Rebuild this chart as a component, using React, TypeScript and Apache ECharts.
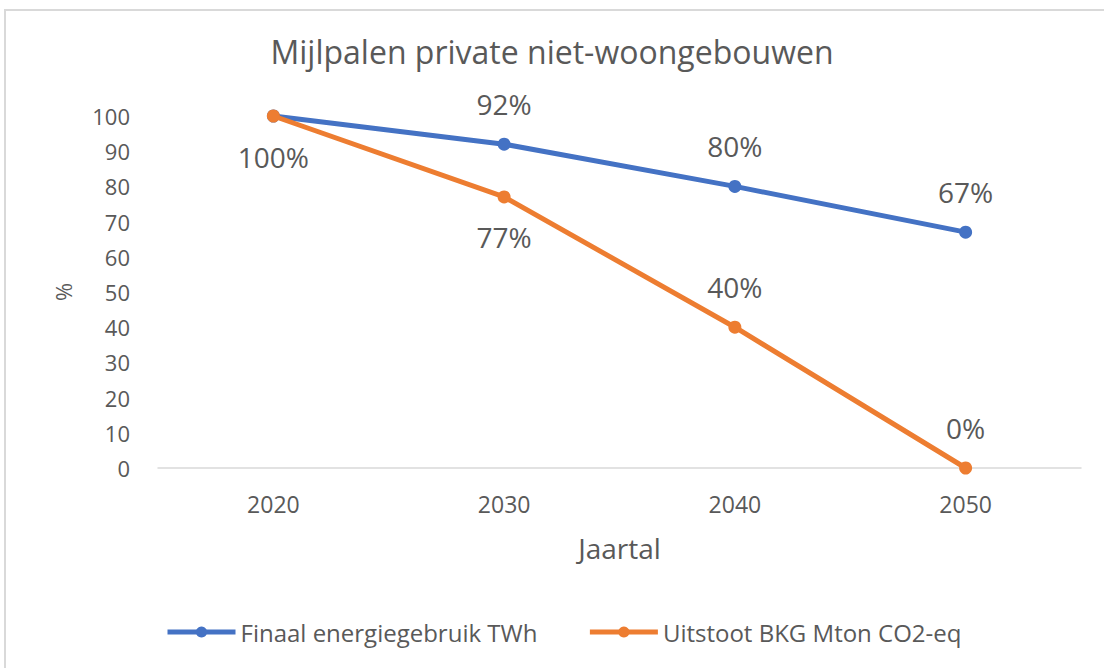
import React, { useEffect, useRef } from "react";
import * as echarts from "echarts";

const years = ["2020", "2030", "2040", "2050"];
const energyValues = [100, 92, 80, 67];
const emissionValues = [100, 77, 40, 0];
const energyLabelPos = ["none", "top", "top", "top"];
const emissionLabelPos = ["bottom", "bottom", "top", "top"];
const yTicks = [0, 10, 20, 30, 40, 50, 60, 70, 80, 90, 100];

const FONT = "'Open Sans', 'Noto Sans', sans-serif";
const GREY = "#595959";

function buildData(values: number[], pos: string[]) {
  return values.map((v, i) =>
    pos[i] === "none"
      ? { value: v, label: { show: false } }
      : { value: v, label: { show: true, position: pos[i] } }
  );
}

export default function App() {
  const ref = useRef<HTMLDivElement>(null);
  useEffect(() => {
    if (!ref.current) return;
    const chart = echarts.init(ref.current, undefined, { renderer: "svg" });
    const labelStyle = {
      show: true,
      formatter: (p: any) => p.value + "%",
      fontFamily: FONT,
      fontSize: 28,
      color: GREY,
      distance: 20,
    };
    chart.setOption({
      animation: false,
      backgroundColor: "#fff",
      textStyle: { fontFamily: FONT },
      title: {
        text: "Mijlpalen private niet-woongebouwen",
        left: "center",
        top: 30,
        textStyle: { fontFamily: FONT, fontSize: 32, fontWeight: "normal", color: GREY },
      },
      graphic: [
        {
          type: "rect",
          shape: { x: 5, y: 10, width: 1120, height: 700 },
          style: { fill: "none", stroke: "#d9d9d9", lineWidth: 2 },
          silent: true,
        },
      ],
      legend: {
        left: 160,
        top: 615,
        itemGap: 50,
        itemWidth: 68,
        itemHeight: 14,
        lineStyle: { width: 5 },
        textStyle: { fontFamily: FONT, fontSize: 24, color: GREY },
        data: ["Finaal energiegebruik TWh", "Uitstoot BKG Mton CO2-eq"],
      },
      grid: { left: 158, right: 23, top: 116, bottom: 200 },
      xAxis: {
        type: "category",
        data: years,
        boundaryGap: true,
        name: "Jaartal",
        nameLocation: "middle",
        nameGap: 66,
        nameTextStyle: { fontFamily: FONT, fontSize: 28, color: GREY },
        axisLine: { lineStyle: { color: "#d9d9d9", width: 1.5 } },
        axisTick: { show: false },
        axisLabel: { fontFamily: FONT, fontSize: 23, color: GREY, margin: 24 },
      },
      yAxis: {
        type: "value",
        min: yTicks[0],
        max: yTicks[yTicks.length - 1],
        interval: 10,
        name: "%",
        nameLocation: "middle",
        nameRotate: 90,
        nameGap: 84,
        nameTextStyle: { fontFamily: FONT, fontSize: 22, color: GREY },
        axisLine: { show: false },
        axisTick: { show: false },
        splitLine: { show: false },
        axisLabel: { fontFamily: FONT, fontSize: 22, color: GREY, margin: 28 },
      },
      series: [
        {
          name: "Finaal energiegebruik TWh",
          type: "line",
          data: buildData(energyValues, energyLabelPos),
          color: "#4472C4",
          lineStyle: { width: 5, color: "#4472C4" },
          symbol: "circle",
          symbolSize: 13,
          itemStyle: { color: "#4472C4" },
          label: labelStyle,
          z: 2,
        },
        {
          name: "Uitstoot BKG Mton CO2-eq",
          type: "line",
          data: buildData(emissionValues, emissionLabelPos),
          color: "#ED7D31",
          lineStyle: { width: 5, color: "#ED7D31" },
          symbol: "circle",
          symbolSize: 13,
          itemStyle: { color: "#ED7D31" },
          label: labelStyle,
          z: 3,
        },
      ],
    });
    return () => chart.dispose();
  }, []);
  return (
    <div
      ref={ref}
      style={{ position: "fixed", left: 0, top: 0, width: 1104, height: 668 }}
    />
  );
}
